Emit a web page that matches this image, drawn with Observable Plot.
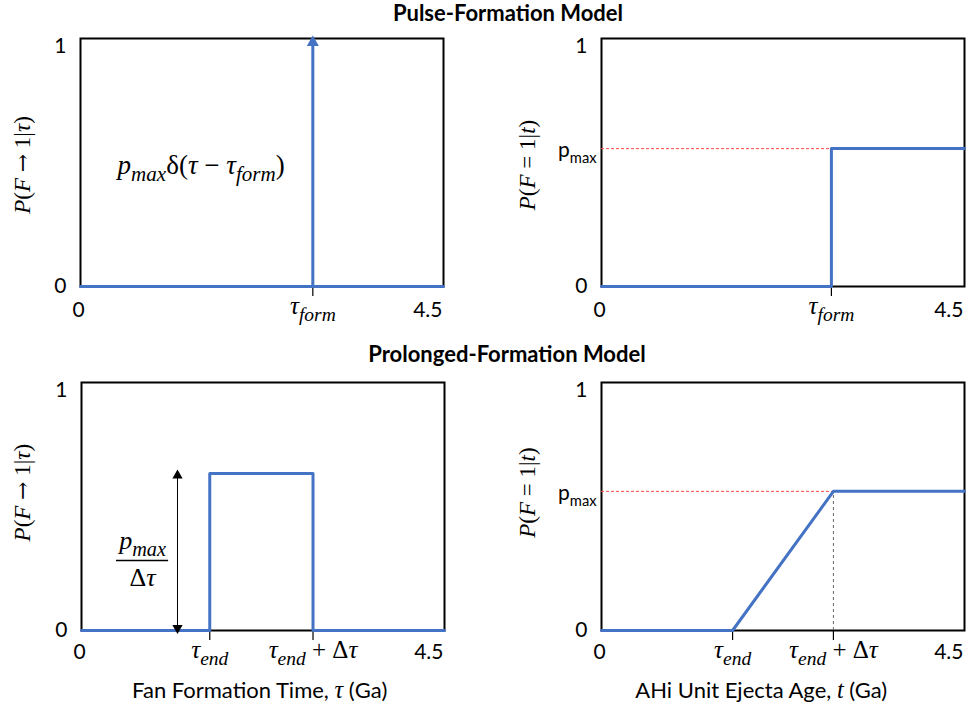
<!DOCTYPE html>
<html>
<head>
<meta charset="utf-8">
<script src="https://cdn.jsdelivr.net/npm/d3@7"></script>
<script src="https://cdn.jsdelivr.net/npm/@observablehq/plot@0.6"></script>
<style>
  body { margin: 0; background: #fff; }
  #root { position: relative; width: 968px; height: 711px; font-family: Lato, "Open Sans", sans-serif; overflow: hidden; }
  .title { position: absolute; transform: translate(-50%, -50%); font-weight: bold; font-size: 22px; line-height: 24px; white-space: nowrap; color: #000; }
  .panel { position: absolute; }
  .panel svg { overflow: visible; }
  text, tspan { white-space: pre; }
</style>
</head>
<body>
<div id="root"></div>
<script>
const SANS = "Lato, 'Open Sans', sans-serif";
const SERIF = "'Liberation Serif', 'DejaVu Serif', serif";
const ARROWFONT = "'DejaVu Serif', serif";
const BLUE = "#4472C4";

const X_DOMAIN = [0, 4.5];
const Y_DOMAIN = [0, 1];
const sectionTitles = ["Pulse-Formation Model", "Prolonged-Formation Model"];
const xAxisTitles = ["@xlabTau", "@xlabT"];
const yAxisTitles = ["@ylabTau", "@ylabT"];
const xEndLabels = ["0", "4.5"];
const yEndLabels = ["0", "1"];

// Panel A (pulse, density)
const aLineX = [0, 4.5];
const aLineY = [0, 0];
const aSpikeX = [2.88, 2.88];
const aSpikeY = [0, 1];
const aTicks = [2.88];
const aTickLabels = ["@tauForm"];

// Panel B (pulse, cumulative)
const bLineX = [0, 2.85, 2.85, 4.5];
const bLineY = [0, 0, 0.556, 0.556];
const bPmax = 0.556;
const bTicks = [2.85];
const bTickLabels = ["@tauForm"];

// Panel C (prolonged, density)
const cLineX = [0, 1.59, 1.59, 2.87, 2.87, 4.5];
const cLineY = [0, 0, 0.633, 0.633, 0, 0];
const cTicks = [1.59, 2.87];
const cTickLabels = ["@tauEnd", "@tauEndDt"];
const cArrowX = 1.19;
const cArrowY = [0.01, 0.625];

// Panel D (prolonged, cumulative)
const dLineX = [0, 1.625, 2.875, 4.5];
const dLineY = [0, 0, 0.561, 0.561];
const dPmax = 0.561;
const dTicks = [1.625, 2.875];
const dTickLabels = ["@tauEnd", "@tauEndDt"];

// rich text (math) pieces: kind m = serif italic, u = serif upright, a = arrow, s = sans; suffix "sub" = subscript
const RICH = {
  "@tauForm": [["τ", "m"], ["form", "msub"]],
  "@tauEnd": [["τ", "m"], ["end", "msub"]],
  "@tauEndDt": [["τ", "m"], ["end", "msub"], [" + Δ", "u"], ["τ", "m"]],
  "@pmaxDelta": [["p", "m"], ["max", "msub"], ["δ", "u"], ["(", "u"], ["τ", "m"], [" − ", "u"], ["τ", "m"], ["form", "msub"], [")", "u"]],
  "@pmaxFrac": [["p", "m"], ["max", "msub"]],
  "@dtau": [["Δ", "u"], ["τ", "m"]],
  "@pmaxPlain": [["p", "s"], ["max", "ssub"]],
  "@ylabTau": [["P", "m"], ["(", "u"], ["F", "m"], [" ", "u"], ["→", "a"], [" 1|", "u"], ["τ", "m"], [")", "u"]],
  "@ylabT": [["P", "m"], ["(", "u"], ["F", "m"], [" = 1|", "u"], ["t", "m"], [")", "u"]],
  "@xlabTau": [["Fan Formation Time, ", "s"], ["τ", "m"], [" (Ga)", "s"]],
  "@xlabT": [["AHi Unit Ejecta Age, ", "s"], ["t", "m"], [" (Ga)", "s"]]
};

function richify(svg) {
  d3.select(svg).selectAll("text").each(function () {
    const key = this.textContent.trim();
    const spec = RICH[key];
    if (!spec) return;
    const base = parseFloat(getComputedStyle(this).fontSize) || 20;
    const el = d3.select(this);
    el.text(null);
    let off = 0;
    for (const [s, kind] of spec) {
      const sub = kind.endsWith("sub");
      const fam = kind[0] === "s" ? SANS : kind[0] === "a" ? ARROWFONT : SERIF;
      const italic = kind[0] === "m";
      let size = sub ? base * (kind[0] === "m" ? 0.78 : 0.7) : base;
      if (kind === "a") size = base * 0.95;
      if (kind === "m" && key.startsWith("@xlab")) size = base * 1.1;
      const target = sub ? base * 0.28 : 0;
      const ts = el.append("tspan").text(s)
        .attr("font-family", fam)
        .attr("font-style", italic ? "italic" : "normal")
        .attr("font-size", size);
      if (target !== off) { ts.attr("dy", target - off); off = target; }
    }
  });
}

const root = document.getElementById("root");

function addTitle(text, cx, cy) {
  const d = document.createElement("div");
  d.className = "title";
  d.textContent = text;
  d.style.left = cx + "px";
  d.style.top = cy + "px";
  root.appendChild(d);
}

function zip(xs, ys) { return xs.map((x, i) => ({x, y: ys[i]})); }

function panel(o) {
  const marks = [
    Plot.frame({stroke: "black", strokeWidth: 2}),
    Plot.axisX(o.ticks, {tickSize: 10, tickFormat: () => "", label: null, strokeWidth: 1.2}),
    ...(o.extra || []),
    Plot.line(zip(o.lineX, o.lineY), {x: "x", y: "y", stroke: BLUE, strokeWidth: 3}),
    ...(o.over || []),
    // tick labels along x
    Plot.text([{x: X_DOMAIN[0], t: xEndLabels[0]}], {x: "x", text: "t", frameAnchor: "bottom", lineAnchor: "middle", dy: o.xLabDy, dx: -2, fontSize: 21}),
    Plot.text([{x: X_DOMAIN[1], t: xEndLabels[1]}], {x: "x", text: "t", frameAnchor: "bottom", lineAnchor: "middle", dy: o.xLabDy, dx: -1, textAnchor: "end", fontSize: 21}),
    Plot.text(o.ticks.map((x, i) => ({x, t: o.tickLabels[i]})), {x: "x", text: "t", frameAnchor: "bottom", lineAnchor: "middle", dy: 19, fontSize: 25}),
    // y labels
    Plot.text([{y: Y_DOMAIN[0], t: yEndLabels[0]}], {y: "y", text: "t", frameAnchor: "left", lineAnchor: "middle", textAnchor: "end", dx: -14, fontSize: 21}),
    Plot.text([{y: Y_DOMAIN[1], t: yEndLabels[1]}], {y: "y", text: "t", frameAnchor: "left", lineAnchor: "middle", textAnchor: "end", dx: -14, dy: 8, fontSize: 21}),
    // rotated y title
    Plot.text([{x: o.yTitleX, y: o.yTitleY, t: o.yTitle}], {x: "x", y: "y", text: "t", rotate: -90, fontSize: 23})
  ];
  if (o.xTitle) {
    marks.push(Plot.text([{x: o.xTitleX, t: o.xTitle}], {x: "x", text: "t", frameAnchor: "bottom", lineAnchor: "middle", dy: 60, fontSize: 22}));
  }
  const svg = Plot.plot({
    width: o.width, height: o.height,
    marginTop: o.mt, marginBottom: o.mb, marginLeft: o.ml, marginRight: o.mr,
    x: {domain: X_DOMAIN},
    y: {domain: Y_DOMAIN, axis: null},
    style: {fontFamily: SANS, fontSize: "20px", background: "transparent", color: "black"},
    marks
  });
  const wrap = document.createElement("div");
  wrap.className = "panel";
  wrap.style.left = o.left + "px";
  wrap.style.top = o.top + "px";
  wrap.appendChild(svg);
  root.appendChild(wrap);
  richify(svg);
}

addTitle(sectionTitles[0], 508, 13);
addTitle(sectionTitles[1], 507, 354);

// Panel A
panel({
  left: 0, top: 18, width: 484, height: 320, mt: 20, mb: 52, ml: 80, mr: 41, xLabDy: 24,
  lineX: aLineX, lineY: aLineY, ticks: aTicks, tickLabels: aTickLabels,
  yTitle: yAxisTitles[0], yTitleX: -0.72, yTitleY: 0.49,
  over: [
    Plot.line(zip(aSpikeX, aSpikeY), {x: "x", y: "y", stroke: BLUE, strokeWidth: 3}),
    Plot.dot([{x: aSpikeX[1], y: aSpikeY[1]}], {x: "x", y: "y", symbol: "triangle", r: 4.5, fill: BLUE, stroke: null, dy: 4}),
    Plot.text([{x: 0.46, y: 0.49, t: "@pmaxDelta"}], {x: "x", y: "y", text: "t", textAnchor: "start", fontSize: 27})
  ]
});

// Panel B
panel({
  left: 484, top: 18, width: 484, height: 320, mt: 20, mb: 52, ml: 117, mr: 4, xLabDy: 24,
  lineX: bLineX, lineY: bLineY, ticks: bTicks, tickLabels: bTickLabels,
  yTitle: yAxisTitles[1], yTitleX: -0.92, yTitleY: 0.49,
  extra: [
    Plot.ruleY([bPmax], {x1: X_DOMAIN[0], x2: bTicks[0], stroke: "#FF4B4B", strokeWidth: 1, strokeDasharray: "3,2"})
  ],
  over: [
    Plot.text([{y: bPmax, t: "@pmaxPlain"}], {y: "y", text: "t", frameAnchor: "left", textAnchor: "end", dx: -5, dy: 2, fontSize: 21})
  ]
});

// Panel C
panel({
  left: 0, top: 340, width: 484, height: 371, mt: 42, mb: 81, ml: 81, mr: 40, xLabDy: 22,
  lineX: cLineX, lineY: cLineY, ticks: cTicks, tickLabels: cTickLabels,
  yTitle: yAxisTitles[0], yTitleX: -0.73, yTitleY: 0.556,
  xTitle: xAxisTitles[0], xTitleX: 2.21,
  over: [
    Plot.ruleX([cArrowX], {y1: cArrowY[0], y2: cArrowY[1], stroke: "black", strokeWidth: 1}),
    Plot.dot([{x: cArrowX, y: cArrowY[1], r: 0}, {x: cArrowX, y: cArrowY[0], r: 180}], {x: "x", y: "y", rotate: "r", symbol: "triangle", r: 3.8, fill: "black", stroke: null}),
    Plot.text([{x: 0.757, y: 0.362, t: "@pmaxFrac"}], {x: "x", y: "y", text: "t", fontSize: 26}),
    Plot.ruleY([0.282], {x1: 0.434, x2: 1.08, stroke: "black", strokeWidth: 1.5}),
    Plot.text([{x: 0.757, y: 0.213, t: "@dtau"}], {x: "x", y: "y", text: "t", fontSize: 26})
  ]
});

// Panel D
panel({
  left: 484, top: 340, width: 484, height: 371, mt: 42, mb: 81, ml: 117, mr: 4, xLabDy: 22,
  lineX: dLineX, lineY: dLineY, ticks: dTicks, tickLabels: dTickLabels,
  yTitle: yAxisTitles[1], yTitleX: -0.92, yTitleY: 0.556,
  xTitle: xAxisTitles[1], xTitleX: 1.98,
  extra: [
    Plot.ruleY([dPmax], {x1: X_DOMAIN[0], x2: dTicks[1], stroke: "#FF4B4B", strokeWidth: 1, strokeDasharray: "3,2"}),
    Plot.ruleX([dTicks[1]], {y1: 0, y2: dPmax, stroke: "#666", strokeWidth: 1, strokeDasharray: "3,3"})
  ],
  over: [
    Plot.text([{y: dPmax, t: "@pmaxPlain"}], {y: "y", text: "t", frameAnchor: "left", textAnchor: "end", dx: -5, dy: 2, fontSize: 21})
  ]
});
</script>
</body>
</html>
